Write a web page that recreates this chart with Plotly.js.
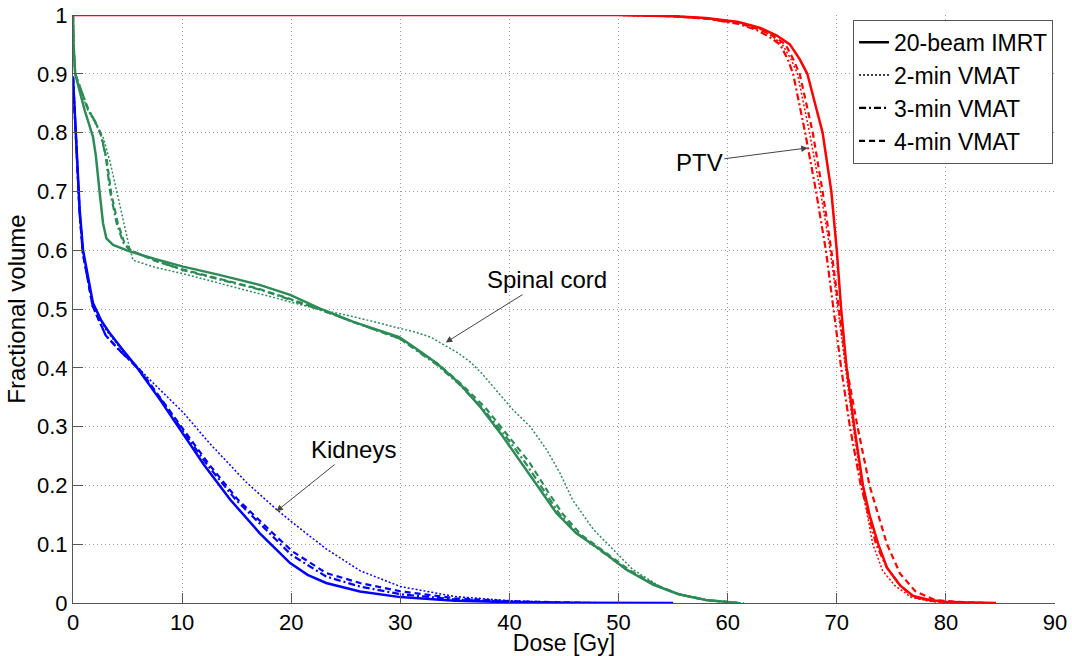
<!DOCTYPE html>
<html>
<head>
<meta charset="utf-8">
<script src="https://cdn.plot.ly/plotly-3.0.1.min.js"></script>
<style>
html,body{margin:0;padding:0;background:#fff;}
#chart{width:1072px;height:656px;}
</style>
</head>
<body>
<div id="chart"></div>
<script>
// ---------- data (dose in Gy, fractional volume) ----------
const seriesNames = ["20-beam IMRT", "2-min VMAT", "3-min VMAT", "4-min VMAT"];
const xTicks = [0, 10, 20, 30, 40, 50, 60, 70, 80, 90];
const yTicks = [0, 0.1, 0.2, 0.3, 0.4, 0.5, 0.6, 0.7, 0.8, 0.9, 1];
const yTickText = ["0", "0.1", "0.2", "0.3", "0.4", "0.5", "0.6", "0.7", "0.8", "0.9", "1"];

// PTV
const ptvImrtDose = [0, 50, 55, 58, 61, 63, 64.5, 65.7, 66.6, 67.3, 68.0, 68.7, 69.1, 69.5, 70.0, 70.4, 70.9, 71.6, 72.4, 73.0, 73.8, 74.6, 75.8, 77.0, 78.5, 80.0, 82.0, 84.6];
const ptvImrtVol  = [1, 1, 0.998, 0.995, 0.988, 0.978, 0.965, 0.95, 0.925, 0.90, 0.85, 0.80, 0.75, 0.70, 0.60, 0.50, 0.40, 0.30, 0.20, 0.15, 0.10, 0.06, 0.03, 0.012, 0.005, 0.002, 0.001, 0];
const ptv2minDose = [0, 50, 55, 58, 61, 62.8, 64.0, 65.0, 65.8, 66.4, 66.95, 67.5, 68.5, 69.4, 70.1, 70.8, 71.5, 72.3, 73.3, 74.2, 75.3, 76.8, 78.5, 80, 82];
const ptv2minVol  = [1, 1, 0.998, 0.995, 0.988, 0.978, 0.965, 0.95, 0.925, 0.90, 0.85, 0.80, 0.70, 0.60, 0.50, 0.40, 0.30, 0.20, 0.10, 0.055, 0.03, 0.01, 0.003, 0.001, 0];
const ptv3minDose = [0, 50, 55, 58, 61, 62.7, 63.8, 64.8, 65.5, 66.0, 66.55, 67.1, 68.1, 69.0, 69.7, 70.4, 71.2, 72.2, 73.6, 74.6, 75.8, 77.0, 78.5, 80, 82];
const ptv3minVol  = [1, 1, 0.998, 0.994, 0.985, 0.974, 0.963, 0.95, 0.925, 0.90, 0.85, 0.80, 0.70, 0.60, 0.50, 0.40, 0.30, 0.20, 0.10, 0.06, 0.03, 0.01, 0.004, 0.001, 0];
const ptv4minDose = [0, 50, 55, 58, 61, 63, 64.2, 65.3, 66.0, 66.6, 67.2, 67.8, 68.7, 69.5, 70.2, 70.9, 71.9, 73.0, 73.8, 74.6, 75.8, 77.2, 79.0, 81, 84];
const ptv4minVol  = [1, 1, 0.998, 0.994, 0.986, 0.975, 0.964, 0.95, 0.925, 0.90, 0.85, 0.80, 0.70, 0.60, 0.50, 0.40, 0.30, 0.20, 0.15, 0.10, 0.05, 0.02, 0.005, 0.002, 0];

// Spinal cord
const cordImrtDose = [0, 0.05, 0.2, 1.07, 1.83, 2.1, 2.45, 2.75, 3.06, 3.67, 4.9, 5.2, 7.5, 10.1, 13.4, 17.1, 19.9, 22.6, 25.7, 29.9, 31.5, 33.3, 35.4, 37.3, 39.4, 40.9, 42.8, 44.3, 46.1, 48.3, 50.7, 53.2, 55.5, 58, 61];
const cordImrtVol  = [1, 0.95, 0.9, 0.838, 0.793, 0.76, 0.697, 0.646, 0.62, 0.609, 0.60, 0.598, 0.585, 0.572, 0.558, 0.541, 0.524, 0.501, 0.478, 0.452, 0.432, 0.408, 0.374, 0.334, 0.283, 0.244, 0.193, 0.153, 0.119, 0.091, 0.057, 0.031, 0.015, 0.005, 0];
const cord2minDose = [0, 0.05, 0.2, 1.3, 2.2, 2.8, 3.4, 4.0, 4.6, 5.1, 5.5, 7.5, 10.1, 13.4, 17.1, 19.9, 22.6, 25.7, 29.9, 31.5, 32.8, 34.2, 35.3, 36.4, 37.5, 38.5, 40.3, 41.9, 43.4, 44.6, 45.8, 47.7, 49.5, 51.3, 53.8, 56, 58.5, 61.5];
const cord2minVol  = [1, 0.95, 0.9, 0.84, 0.81, 0.79, 0.75, 0.70, 0.65, 0.61, 0.583, 0.571, 0.56, 0.544, 0.526, 0.512, 0.499, 0.487, 0.468, 0.46, 0.452, 0.437, 0.425, 0.41, 0.39, 0.368, 0.329, 0.30, 0.261, 0.222, 0.175, 0.125, 0.091, 0.057, 0.028, 0.012, 0.004, 0];
const cord3minDose = [0, 0.05, 0.2, 1.38, 2.0, 2.5, 3.0, 3.4, 4.0, 4.6, 5.2, 7.5, 10.1, 13.4, 17.1, 19.9, 22.6, 25.7, 29.9, 33.3, 35.4, 37.5, 39.8, 41.4, 43.2, 44.6, 46.3, 48.4, 50.8, 53.3, 55.5, 58, 61];
const cord3minVol  = [1, 0.95, 0.9, 0.84, 0.82, 0.80, 0.76, 0.70, 0.646, 0.613, 0.60, 0.583, 0.566, 0.551, 0.533, 0.516, 0.499, 0.478, 0.45, 0.406, 0.372, 0.332, 0.28, 0.24, 0.19, 0.151, 0.117, 0.089, 0.056, 0.031, 0.015, 0.005, 0];
const cord4minDose = [0, 0.05, 0.2, 1.38, 2.0, 2.6, 3.1, 3.5, 4.1, 4.7, 5.3, 7.5, 10.1, 13.4, 17.1, 19.9, 22.6, 25.7, 29.9, 33.5, 35.6, 37.8, 40.1, 41.8, 43.5, 44.9, 46.5, 48.6, 51.0, 53.4, 55.5, 58, 61];
const cord4minVol  = [1, 0.95, 0.9, 0.84, 0.82, 0.795, 0.753, 0.697, 0.646, 0.613, 0.60, 0.582, 0.567, 0.551, 0.534, 0.517, 0.5, 0.478, 0.45, 0.406, 0.372, 0.332, 0.28, 0.24, 0.19, 0.151, 0.117, 0.089, 0.056, 0.031, 0.015, 0.005, 0];

// Kidneys
const kidImrtDose = [0, 0.16, 0.61, 0.92, 1.83, 2.6, 3.36, 4.5, 5.8, 8.0, 10.0, 12.0, 14.4, 17.1, 19.9, 21.5, 23.2, 26.3, 30, 35, 40, 45, 55];
const kidImrtVol  = [0.895, 0.838, 0.669, 0.60, 0.51, 0.48, 0.459, 0.432, 0.402, 0.345, 0.29, 0.235, 0.176, 0.119, 0.068, 0.048, 0.034, 0.0197, 0.01, 0.004, 0.0015, 0.0005, 0];
const kid2minDose = [0, 0.16, 0.6, 0.9, 1.8, 3.0, 4.9, 7.3, 10.05, 12.5, 15.9, 18.6, 20.1, 23.2, 26.3, 30, 35, 40, 45, 50];
const kid2minVol  = [0.895, 0.84, 0.67, 0.60, 0.51, 0.465, 0.42, 0.375, 0.325, 0.272, 0.205, 0.16, 0.137, 0.092, 0.055, 0.028, 0.011, 0.004, 0.001, 0];
const kid3minDose = [0, 0.16, 0.6, 0.9, 1.8, 3.0, 4.5, 5.9, 8.1, 10.1, 12.3, 14.9, 18.0, 20.0, 23.2, 26.3, 30, 35, 40, 45];
const kid3minVol  = [0.895, 0.835, 0.665, 0.595, 0.505, 0.455, 0.425, 0.40, 0.345, 0.292, 0.235, 0.176, 0.119, 0.082, 0.045, 0.028, 0.015, 0.006, 0.002, 0];
const kid4minDose = [0, 0.16, 0.6, 0.9, 1.8, 3.0, 4.5, 6.0, 8.2, 10.2, 12.5, 15.1, 18.3, 20.1, 23.2, 26.3, 30, 35, 40, 48];
const kid4minVol  = [0.895, 0.835, 0.665, 0.595, 0.505, 0.455, 0.425, 0.40, 0.345, 0.293, 0.235, 0.176, 0.119, 0.088, 0.051, 0.034, 0.02, 0.008, 0.003, 0];

// ---------- styling ----------
const FONT = "Liberation Sans, Arial, Helvetica, sans-serif";
const RED = "#ff0000", GREEN = "#2e8b57", BLUE = "#0000ff";
const lineStyles = [
  {dash: "solid", width: 2.5},
  {dash: "2px,2px", width: 1.5},
  {dash: "7px,3px,2px,3px", width: 2.2},
  {dash: "6px,4px", width: 2.2}
];

const traces = [];
function addCurve(x, y, color, styleIdx) {
  traces.push({
    x: x, y: y, type: "scatter", mode: "lines",
    line: {color: color, dash: lineStyles[styleIdx].dash, width: lineStyles[styleIdx].width},
    showlegend: false, hoverinfo: "skip"
  });
}
addCurve(kidImrtDose, kidImrtVol, BLUE, 0);
addCurve(kid2minDose, kid2minVol, BLUE, 1);
addCurve(kid3minDose, kid3minVol, BLUE, 2);
addCurve(kid4minDose, kid4minVol, BLUE, 3);
addCurve(cordImrtDose, cordImrtVol, GREEN, 0);
addCurve(cord2minDose, cord2minVol, GREEN, 1);
addCurve(cord3minDose, cord3minVol, GREEN, 2);
addCurve(cord4minDose, cord4minVol, GREEN, 3);
addCurve(ptvImrtDose, ptvImrtVol, RED, 0);
addCurve(ptv2minDose, ptv2minVol, RED, 1);
addCurve(ptv3minDose, ptv3minVol, RED, 2);
addCurve(ptv4minDose, ptv4minVol, RED, 3);

// legend entries (black line samples)
seriesNames.forEach(function (name, i) {
  traces.push({
    x: [null], y: [null], type: "scatter", mode: "lines", name: name,
    line: {color: "#000", dash: lineStyles[i].dash, width: lineStyles[i].width},
    showlegend: true, hoverinfo: "skip"
  });
});

const annFont = {family: FONT, size: 24, color: "#000"};
function note(text, tx, ty, hx, hy) {
  return {
    text: text, x: hx, y: hy, xref: "x", yref: "y",
    ax: tx, ay: ty, axref: "x", ayref: "y",
    showarrow: true, arrowhead: 2, arrowsize: 1.3, arrowwidth: 1, arrowcolor: "#444",
    font: annFont, standoff: 0, startstandoff: 0
  };
}

const axisCommon = {
  showline: true, linecolor: "#555", linewidth: 1, mirror: false,
  ticks: "inside", ticklen: 10, tickcolor: "#555", tickwidth: 1,
  showgrid: true, gridcolor: "#9a9a9a", griddash: "1px,3px", gridwidth: 1,
  zeroline: false, tickfont: {family: FONT, size: 22, color: "#000"},
  automargin: false
};

const layout = {
  width: 1072, height: 656,
  margin: {l: 73, r: 17, t: 15, b: 53},
  paper_bgcolor: "#fff", plot_bgcolor: "#fff",
  font: {family: FONT, size: 22, color: "#000"},
  xaxis: Object.assign({}, axisCommon, {
    range: [0, 90], tickvals: xTicks,
    title: {text: "Dose [Gy]", font: {family: FONT, size: 23}, standoff: 0}
  }),
  yaxis: Object.assign({}, axisCommon, {
    range: [0, 1], tickvals: yTicks, ticktext: yTickText,
    title: {text: "Fractional volume", font: {family: FONT, size: 24}, standoff: 4}
  }),
  legend: {
    x: 0.998, y: 0.992, xanchor: "right", yanchor: "top",
    bgcolor: "#fff", bordercolor: "#555", borderwidth: 1,
    font: {family: FONT, size: 23, color: "#000"},
    itemwidth: 30, tracegroupgap: 0
  },
  annotations: [
    note("PTV", 57.4, 0.750, 67.34, 0.774),
    note("Spinal cord", 43.4, 0.55, 34.16, 0.443),
    note("Kidneys", 25.7, 0.261, 18.64, 0.156)
  ],
  showlegend: true
};

Plotly.newPlot("chart", traces, layout, {displayModeBar: false, staticPlot: true});
</script>
</body>
</html>
